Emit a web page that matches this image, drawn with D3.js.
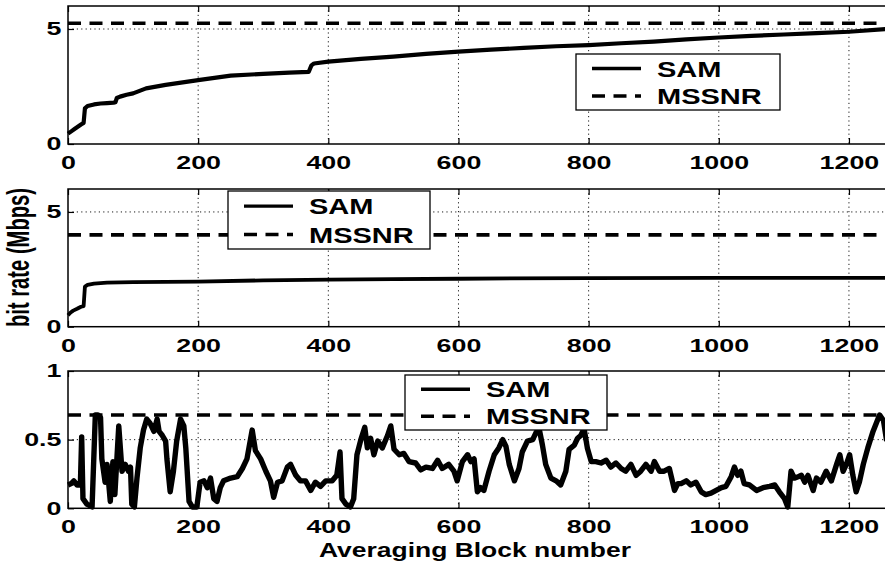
<!DOCTYPE html>
<html>
<head>
<meta charset="utf-8">
<script src="https://cdn.jsdelivr.net/npm/d3@7"></script>
<style>
  html, body { margin: 0; padding: 0; background: #fff; }
  svg { display: block; }
  text { font-family: "Liberation Sans", Arial, Helvetica, sans-serif; font-weight: bold; fill: #000; }
</style>
</head>
<body>
<svg id="chart" width="885" height="565"></svg>
<script>
// ---- data -------------------------------------------------------------
const xTicks = [0, 200, 400, 600, 800, 1000, 1200];
const seriesNames = ["SAM", "MSSNR"];

// panel 1: cumulative SAM bit rate
const topBlock = [0, 5, 10, 15, 20, 24, 26, 30, 40, 50, 60, 70, 73, 75, 80, 90, 100, 120, 150, 200,
                  250, 300, 340, 370, 374, 378, 400, 450, 500, 550, 600, 650, 700, 750, 800, 850,
                  900, 950, 1000, 1050, 1100, 1150, 1200, 1260];
const topSAM = [0.45, 0.55, 0.65, 0.75, 0.85, 0.92, 1.55, 1.65, 1.72, 1.76, 1.78, 1.8, 1.82, 2.0, 2.06, 2.14, 2.2, 2.42, 2.57, 2.78,
                2.97, 3.05, 3.1, 3.14, 3.42, 3.5, 3.58, 3.7, 3.8, 3.92, 4.02, 4.1, 4.18, 4.25, 4.3, 4.38,
                4.45, 4.55, 4.63, 4.7, 4.76, 4.82, 4.88, 5.0];

// panel 2: SAM bit rate
const midBlock = [0, 4, 8, 14, 20, 24, 26, 30, 40, 60, 100, 200, 300, 400, 500, 600, 800, 1000, 1200, 1260];
const midSAM = [0.5, 0.62, 0.7, 0.78, 0.87, 0.9, 1.75, 1.82, 1.88, 1.92, 1.94, 1.96, 2.02, 2.05, 2.07, 2.09, 2.12, 2.13, 2.13, 2.13];

// panel 3: SAM bit rate per averaging block
const lowBlock = [0, 5, 9, 14, 19, 21, 23, 29, 37, 42, 46, 50, 52, 57, 60, 65, 69, 72, 78, 83,
  88, 93, 96, 98, 102, 106, 111, 116, 121, 126, 132, 137, 140, 145, 150, 152, 157, 162, 167, 173,
  178, 181, 186, 191, 198, 203, 209, 214, 219, 224, 229, 234, 239, 250, 260, 268, 275, 283, 288, 296,
  304, 311, 316, 322, 329, 337, 342, 350, 357, 365, 373, 380, 388, 396, 406, 413, 418, 421, 427, 434,
  439, 444, 450, 456, 460, 465, 470, 476, 483, 491, 496, 501, 509, 516, 524, 534, 542, 550, 560, 568,
  575, 585, 593, 598, 606, 614, 619, 624, 629, 634, 639, 647, 655, 662, 668, 673, 678, 686, 693, 698,
  706, 714, 719, 724, 729, 734, 742, 750, 757, 765, 770, 778, 783, 788, 793, 798, 804, 811, 819, 827,
  834, 842, 850, 857, 865, 873, 880, 888, 896, 901, 909, 916, 924, 932, 937, 942, 950, 957, 965, 973,
  980, 988, 996, 1004, 1011, 1019, 1024, 1029, 1034, 1039, 1047, 1058, 1068, 1078, 1086, 1093, 1101, 1106, 1111, 1116,
  1122, 1127, 1132, 1137, 1145, 1150, 1157, 1165, 1173, 1181, 1186, 1191, 1196, 1201, 1206, 1211, 1216, 1222, 1229, 1237,
  1242, 1247, 1253, 1258];
const lowSAM = [0.17, 0.18, 0.2, 0.17, 0.17, 0.52, 0.07, 0.03, 0.01, 0.68, 0.68, 0.66, 0.36, 0.19, 0.32, 0.05, 0.34, 0.1, 0.6, 0.27,
  0.32, 0.27, 0.3, 0.03, 0.01, 0.22, 0.44, 0.57, 0.65, 0.62, 0.56, 0.65, 0.56, 0.53, 0.49, 0.36, 0.12, 0.27, 0.49, 0.65,
  0.6, 0.44, 0.05, 0.01, 0.01, 0.19, 0.2, 0.15, 0.22, 0.07, 0.05, 0.15, 0.2, 0.22, 0.23, 0.29, 0.36, 0.57, 0.42, 0.36,
  0.27, 0.2, 0.08, 0.19, 0.2, 0.3, 0.32, 0.24, 0.2, 0.2, 0.13, 0.19, 0.16, 0.2, 0.2, 0.24, 0.41, 0.07, 0.03, 0.01,
  0.07, 0.39, 0.5, 0.59, 0.44, 0.51, 0.39, 0.49, 0.44, 0.53, 0.6, 0.43, 0.39, 0.4, 0.34, 0.33, 0.28, 0.3, 0.29, 0.35,
  0.29, 0.32, 0.27, 0.2, 0.34, 0.39, 0.34, 0.36, 0.12, 0.15, 0.13, 0.27, 0.39, 0.44, 0.5, 0.45, 0.32, 0.2, 0.29, 0.41,
  0.49, 0.5, 0.55, 0.58, 0.46, 0.32, 0.22, 0.2, 0.17, 0.27, 0.43, 0.46, 0.51, 0.53, 0.58, 0.44, 0.34, 0.34, 0.33, 0.35,
  0.3, 0.33, 0.29, 0.27, 0.32, 0.24, 0.27, 0.32, 0.27, 0.34, 0.27, 0.27, 0.29, 0.13, 0.18, 0.18, 0.2, 0.17, 0.19, 0.12,
  0.1, 0.11, 0.13, 0.15, 0.16, 0.23, 0.3, 0.24, 0.27, 0.18, 0.17, 0.13, 0.15, 0.16, 0.17, 0.12, 0.07, 0.01, 0.27, 0.22,
  0.23, 0.24, 0.19, 0.24, 0.13, 0.22, 0.19, 0.27, 0.2, 0.32, 0.39, 0.27, 0.32, 0.39, 0.24, 0.12, 0.19, 0.32, 0.44, 0.56,
  0.62, 0.68, 0.64, 0.49];

// constant MSSNR rate for each panel
const mssnrLevels = [5.25, 4.0, 0.68];

// y ticks and their labels per panel
const yTickValues = [[0, 5], [0, 5], [0, 0.5, 1]];
const yTickLabels = [["0", "5"], ["0", "5"], ["0", "0.5", "1"]];
const yMax = [6, 6, 1];

// ---- layout -----------------------------------------------------------
const svg = d3.select("#chart");
const xLeft = 68, xRight = 888, xMaxBlock = 1260;
const panelBoxes = [
  { top: 6, bottom: 144 },
  { top: 189, bottom: 326.7 },
  { top: 371, bottom: 508.3 }
];
const legendBoxes = [
  { x: 576, y: 54, w: 204, h: 56 },
  { x: 228, y: 191, w: 202, h: 58 },
  { x: 405, y: 375, w: 202, h: 55 }
];
const lineWidths = [4.2, 3.8, 5.4];
const dashStyle = "13,8.5";

const x = d3.scaleLinear().domain([0, xMaxBlock]).range([xLeft, xRight]);

const panelData = [
  { block: topBlock, sam: topSAM },
  { block: midBlock, sam: midSAM },
  { block: lowBlock, sam: lowSAM }
];

panelData.forEach((pd, i) => {
  const box = panelBoxes[i];
  const y = d3.scaleLinear().domain([0, yMax[i]]).range([box.bottom, box.top]);
  const g = svg.append("g");

  // dotted grid
  const grid = g.append("g").attr("stroke", "#000").attr("stroke-width", 0.9)
    .attr("stroke-dasharray", "1.2,3.2");
  grid.selectAll("line.vx").data(xTicks.filter(t => t > 0)).join("line")
    .attr("x1", d => x(d)).attr("x2", d => x(d))
    .attr("y1", box.top).attr("y2", box.bottom);
  grid.selectAll("line.hy").data(yTickValues[i].filter(t => t > 0 && t < yMax[i])).join("line")
    .attr("x1", xLeft).attr("x2", xRight)
    .attr("y1", d => y(d)).attr("y2", d => y(d));

  // MSSNR reference level
  g.append("line")
    .attr("x1", xLeft).attr("x2", xRight)
    .attr("y1", y(mssnrLevels[i])).attr("y2", y(mssnrLevels[i]))
    .attr("stroke", "#000").attr("stroke-width", 3.6)
    .attr("stroke-dasharray", dashStyle);

  // SAM curve
  const pts = pd.block.map((b, k) => [b, pd.sam[k]]);
  g.append("path")
    .datum(pts)
    .attr("fill", "none").attr("stroke", "#000")
    .attr("stroke-width", lineWidths[i]).attr("stroke-linejoin", "round")
    .attr("d", d3.line().x(d => x(d[0])).y(d => y(d[1])));

  // axes: ticks point inward, labels stretched horizontally
  const xAxis = g.append("g").attr("transform", `translate(0,${box.bottom})`)
    .call(d3.axisBottom(x).tickValues(xTicks).tickFormat(d3.format("d"))
      .tickSizeInner(-6).tickSizeOuter(0).tickPadding(12));
  xAxis.select(".domain").remove();
  xAxis.selectAll("line").attr("stroke", "#000").attr("stroke-width", 1.2);
  xAxis.selectAll("text").attr("font-size", 18.5).attr("transform", "scale(1.45,1)")
    .style("font-family", "'Liberation Sans', Arial, sans-serif").style("font-weight", "bold");

  const xAxisTop = g.append("g").attr("transform", `translate(0,${box.top})`)
    .call(d3.axisTop(x).tickValues(xTicks).tickFormat("").tickSizeInner(-6).tickSizeOuter(0));
  xAxisTop.select(".domain").remove();
  xAxisTop.selectAll("line").attr("stroke", "#000").attr("stroke-width", 1.2);

  const labels = yTickLabels[i];
  const yAxis = g.append("g").attr("transform", `translate(${xLeft},0)`)
    .call(d3.axisLeft(y).tickValues(yTickValues[i])
      .tickFormat((d, k) => labels[k]).tickSizeInner(-6).tickSizeOuter(0).tickPadding(4.5));
  yAxis.select(".domain").remove();
  yAxis.selectAll("line").attr("stroke", "#000").attr("stroke-width", 1.2);
  yAxis.selectAll("text").attr("font-size", 18.5).attr("transform", "scale(1.45,1)")
    .style("font-family", "'Liberation Sans', Arial, sans-serif").style("font-weight", "bold");

  // frame
  g.append("rect")
    .attr("x", xLeft).attr("y", box.top)
    .attr("width", xRight - xLeft).attr("height", box.bottom - box.top)
    .attr("fill", "none").attr("stroke", "#000").attr("stroke-width", 1.5);

  // legend
  const lb = legendBoxes[i];
  const lg = g.append("g").attr("transform", `translate(${lb.x},${lb.y})`);
  lg.append("rect").attr("width", lb.w).attr("height", lb.h)
    .attr("fill", "#fff").attr("stroke", "#000").attr("stroke-width", 1.3);
  const rowY = [lb.h * 0.26, lb.h * 0.75];
  seriesNames.forEach((name, k) => {
    lg.append("line")
      .attr("x1", 16).attr("x2", 65)
      .attr("y1", rowY[k]).attr("y2", rowY[k])
      .attr("stroke", "#000").attr("stroke-width", k === 0 ? 3.4 : 3.6)
      .attr("stroke-dasharray", k === 0 ? null : dashStyle);
    lg.append("text")
      .attr("transform", `translate(81,${rowY[k] + 8}) scale(1.35,1)`)
      .attr("font-size", 21.5)
      .text(name);
  });
});

// axis titles
svg.append("text")
  .attr("transform", `translate(${(xLeft + xRight) / 2 - 3},557)`)
  .attr("text-anchor", "middle").attr("font-size", 19.5)
  .attr("textLength", 312).attr("lengthAdjust", "spacingAndGlyphs")
  .text("Averaging Block number");

svg.append("text")
  .attr("transform", "translate(29,257.5) rotate(-90) scale(1,1.55)")
  .attr("text-anchor", "middle").attr("font-size", 20)
  .attr("textLength", 139).attr("lengthAdjust", "spacingAndGlyphs")
  .text("bit rate (Mbps)");
</script>
</body>
</html>
